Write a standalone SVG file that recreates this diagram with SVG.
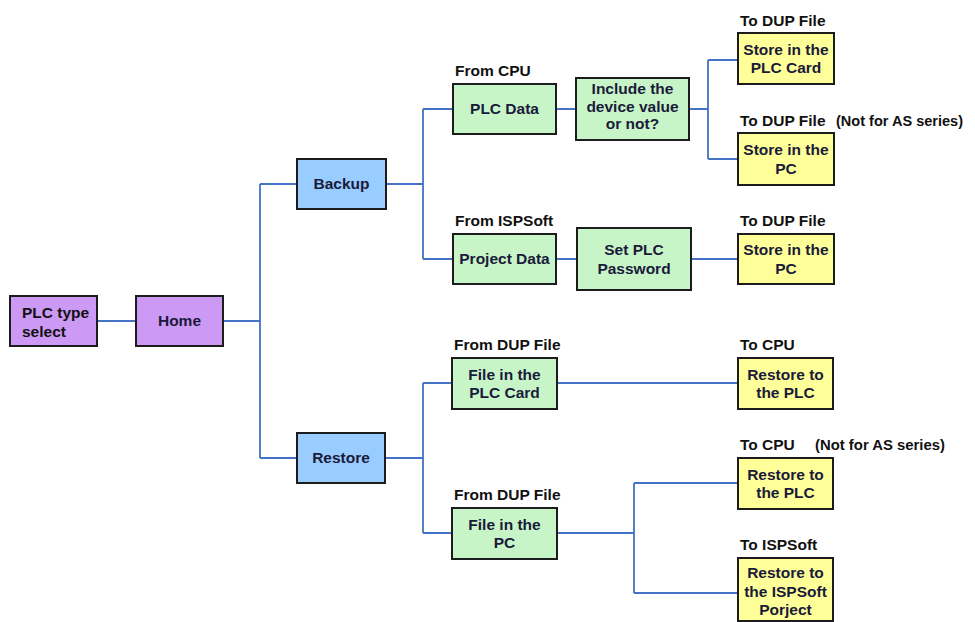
<svg xmlns="http://www.w3.org/2000/svg" width="975" height="622" viewBox="0 0 975 622">
<style>
.box{stroke:#1c1c1c;stroke-width:2}
.p{fill:#CC99F5}
.b{fill:#99CCFF}
.g{fill:#C8F5C8}
.y{fill:#FFFF99}
.t{font-family:"Liberation Sans",Arial,sans-serif;font-weight:bold;font-size:15.5px;fill:#1a1a3a;text-anchor:middle}
.l{font-family:"Liberation Sans",Arial,sans-serif;font-weight:bold;font-size:15.5px;fill:#111}
.c{fill:none;stroke:#4472C4;stroke-width:1.8}
</style>
<rect width="975" height="622" fill="#ffffff"/>
<g id="connectors">
<path class="c" d="M97 321H136M223 321H260M260 184V458M260 184H297M260 458H297"/>
<path class="c" d="M386 184H423M423 109V259M423 109H453M423 259H453"/>
<path class="c" d="M556 109H576M689 109H708M708 60V159M708 60H738M708 159H738"/>
<path class="c" d="M556 259H577M691 259H738"/>
<path class="c" d="M385 458H423M423 383V533M423 383H452M423 533H452"/>
<path class="c" d="M557 383H738M557 533H634M634 483V593M634 483H738M634 593H738"/>
</g>
<g id="plc-type-select">
<rect class="box p" x="10" y="296" width="87" height="50"/>
<text class="l" x="22" y="318" fill="#1a1a3a">PLC type</text>
<text class="l" x="22" y="337">select</text>
</g>
<g id="home">
<rect class="box p" x="136" y="296" width="87" height="50"/>
<text class="t" x="179.5" y="326">Home</text>
</g>
<g id="backup">
<rect class="box b" x="297" y="159" width="89" height="50"/>
<text class="t" x="341.5" y="189">Backup</text>
</g>
<g id="restore">
<rect class="box b" x="297" y="433" width="88" height="50"/>
<text class="t" x="341" y="463">Restore</text>
</g>
<g id="plc-data">
<text class="l" x="455" y="76">From CPU</text>
<rect class="box g" x="453" y="84" width="103" height="50"/>
<text class="t" x="504.5" y="114">PLC Data</text>
</g>
<g id="include-device">
<rect class="box g" x="576" y="78" width="113" height="62"/>
<text class="t" x="632.5" y="94">Include the</text>
<text class="t" x="632.5" y="112">device value</text>
<text class="t" x="632.5" y="129">or not?</text>
</g>
<g id="store-plc-card">
<text class="l" x="740" y="26">To DUP File</text>
<rect class="box y" x="738" y="33" width="96" height="51"/>
<text class="t" x="786" y="55">Store in the</text>
<text class="t" x="786" y="73">PLC Card</text>
</g>
<g id="store-pc-1">
<text class="l" x="740" y="126">To DUP File</text>
<text class="l" x="836" y="126" textLength="127" lengthAdjust="spacingAndGlyphs">(Not for AS series)</text>
<rect class="box y" x="738" y="133" width="96" height="52"/>
<text class="t" x="786" y="155">Store in the</text>
<text class="t" x="786" y="174">PC</text>
</g>
<g id="project-data">
<text class="l" x="455" y="226">From ISPSoft</text>
<rect class="box g" x="453" y="234" width="103" height="50"/>
<text class="t" x="504.5" y="264">Project Data</text>
</g>
<g id="set-password">
<rect class="box g" x="577" y="228" width="114" height="62"/>
<text class="t" x="634" y="255">Set PLC</text>
<text class="t" x="634" y="274">Password</text>
</g>
<g id="store-pc-2">
<text class="l" x="740" y="226">To DUP File</text>
<rect class="box y" x="738" y="234" width="96" height="50"/>
<text class="t" x="786" y="255">Store in the</text>
<text class="t" x="786" y="274">PC</text>
</g>
<g id="file-plc-card">
<text class="l" x="454" y="350">From DUP File</text>
<rect class="box g" x="452" y="358" width="105" height="51"/>
<text class="t" x="504.5" y="380">File in the</text>
<text class="t" x="504.5" y="398">PLC Card</text>
</g>
<g id="restore-plc-1">
<text class="l" x="740" y="350">To CPU</text>
<rect class="box y" x="738" y="358" width="95" height="51"/>
<text class="t" x="785.5" y="380">Restore to</text>
<text class="t" x="785.5" y="398">the PLC</text>
</g>
<g id="file-pc">
<text class="l" x="454" y="500">From DUP File</text>
<rect class="box g" x="452" y="508" width="105" height="51"/>
<text class="t" x="504.5" y="530">File in the</text>
<text class="t" x="504.5" y="548">PC</text>
</g>
<g id="restore-plc-2">
<text class="l" x="740" y="450">To CPU</text>
<text class="l" x="815" y="450" textLength="130" lengthAdjust="spacingAndGlyphs">(Not for AS series)</text>
<rect class="box y" x="738" y="458" width="95" height="51"/>
<text class="t" x="785.5" y="480">Restore to</text>
<text class="t" x="785.5" y="498">the PLC</text>
</g>
<g id="restore-ispsoft">
<text class="l" x="740" y="550">To ISPSoft</text>
<rect class="box y" x="738" y="558" width="95" height="63"/>
<text class="t" x="785.5" y="578">Restore to</text>
<text class="t" x="785.5" y="597">the ISPSoft</text>
<text class="t" x="785.5" y="615">Porject</text>
</g>
</svg>
